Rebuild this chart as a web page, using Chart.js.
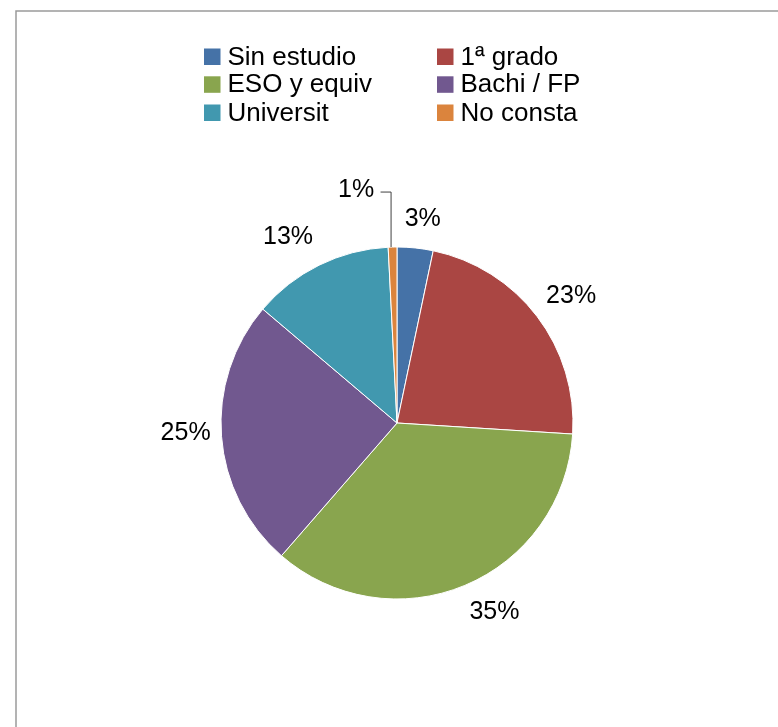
<!DOCTYPE html>
<html>
<head>
<meta charset="utf-8">
<script src="https://cdn.jsdelivr.net/npm/chart.js@4/dist/chart.umd.min.js"></script>
<style>
  html, body { margin: 0; padding: 0; background: #fff; }
  #wrap { position: relative; width: 778px; height: 727px; }
</style>
</head>
<body>
<div id="wrap"><canvas id="c" width="778" height="727"></canvas></div>
<script>
const categories = ['Sin estudio', '1ª grado', 'ESO y equiv', 'Bachi / FP', 'Universit', 'No consta'];
const shares = [3.3, 22.7, 35.4, 24.8, 13.0, 0.8];
const colors = ['#4572A7', '#AA4643', '#89A54E', '#71588F', '#4198AF', '#DB843D'];

const FONT = '"Liberation Sans", Arial, sans-serif';
// small "best fit" adjustments of the percentage labels (pixels)
const LABEL_NUDGE = [[4, 4.5], [7, 0], [16.5, -4.3], [-2, -6], [-16, 2.3], [-2.5, -1.5]];

const framePlugin = {
  id: 'frame',
  beforeDraw(chart) {
    const ctx = chart.ctx;
    ctx.save();
    ctx.strokeStyle = '#9a9a9a';
    ctx.lineWidth = 1.5;
    ctx.beginPath();
    ctx.moveTo(16, 727);
    ctx.lineTo(16, 11);
    ctx.lineTo(778, 11);
    ctx.stroke();
    ctx.restore();
  }
};

const legendPlugin = {
  id: 'customLegend',
  afterDraw(chart) {
    const ctx = chart.ctx;
    const labels = chart.data.labels;
    const bg = chart.data.datasets[0].backgroundColor;
    const colX = [204, 437];
    const rowY = [56.5, 84.3, 112.5];
    ctx.save();
    ctx.font = '26px ' + FONT;
    ctx.textBaseline = 'middle';
    ctx.textAlign = 'left';
    labels.forEach((lab, i) => {
      const x = colX[i % 2];
      const y = rowY[Math.floor(i / 2)];
      ctx.fillStyle = bg[i];
      ctx.fillRect(x, y - 8, 16.5, 16.5);
      ctx.fillStyle = '#000';
      ctx.fillText(lab, x + 23.5, y + 1);
    });
    ctx.restore();
  }
};

const labelPlugin = {
  id: 'pctLabels',
  afterDatasetsDraw(chart) {
    const ctx = chart.ctx;
    const meta = chart.getDatasetMeta(0);
    const data = chart.data.datasets[0].data;
    const total = data.reduce((a, b) => a + b, 0);
    ctx.save();
    ctx.font = '25px ' + FONT;
    ctx.fillStyle = '#000';
    ctx.textAlign = 'center';
    ctx.textBaseline = 'middle';
    meta.data.forEach((arc, i) => {
      const p = arc.getProps(['x', 'y', 'startAngle', 'endAngle', 'outerRadius'], true);
      const mid = (p.startAngle + p.endAngle) / 2;
      const pct = data[i] / total * 100;
      const txt = Math.round(pct) + '%';
      const n = LABEL_NUDGE[i] || [0, 0];
      if (pct < 2) {
        const ax = p.x + p.outerRadius * Math.cos(mid);
        const ay = p.y + p.outerRadius * Math.sin(mid);
        const ey = ay - 55;
        const ex = ax - 12;
        ctx.strokeStyle = '#404040';
        ctx.lineWidth = 1;
        ctx.beginPath();
        ctx.moveTo(ax - 1.5, ay);
        ctx.lineTo(ax - 1.5, ey);
        ctx.lineTo(ex, ey);
        ctx.stroke();
        ctx.fillText(txt, ex - 22 + n[0], ey + n[1]);
      } else {
        const r = p.outerRadius + 34;
        ctx.fillText(txt, p.x + r * Math.cos(mid) + n[0], p.y + r * Math.sin(mid) + n[1]);
      }
    });
    ctx.restore();
  }
};

new Chart(document.getElementById('c'), {
  type: 'pie',
  data: {
    labels: categories,
    datasets: [{
      data: shares,
      backgroundColor: colors,
      borderColor: '#ffffff',
      borderWidth: 1
    }]
  },
  options: {
    responsive: false,
    animation: false,
    layout: { padding: { left: 220.5, right: 204.5, top: 246.5, bottom: 127.5 } },
    plugins: {
      legend: { display: false },
      tooltip: { enabled: false },
      title: { display: false }
    }
  },
  plugins: [framePlugin, legendPlugin, labelPlugin]
});
</script>
</body>
</html>
